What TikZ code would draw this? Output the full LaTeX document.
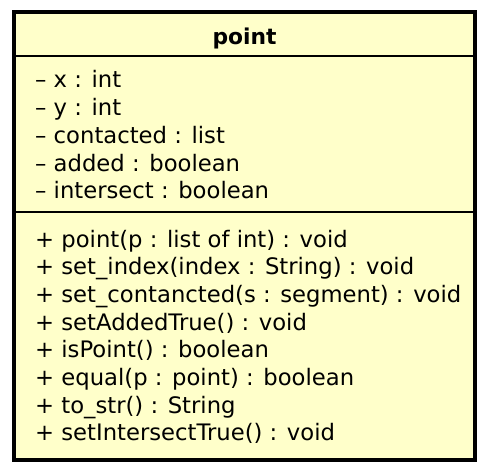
\documentclass[tikz,border=0pt]{standalone}
\usepackage{fontspec}
\setmainfont{DejaVu Sans}
\definecolor{classfill}{RGB}{255,255,202}
\tikzset{
  classbox/.style={draw=black, line width=4pt, fill=classfill},
  divider/.style={draw=black, line width=1.2pt},
  member/.style={anchor=base west, inner sep=0pt, font=\fontsize{22.7}{28}\selectfont},
  classname/.style={anchor=base, inner sep=0pt, font=\fontsize{21.8}{28}\selectfont\bfseries},
}
\begin{document}
\begin{tikzpicture}[x=1pt,y=-1pt]
\useasboundingbox (0,0) rectangle (486,470);
% class frame and compartments
\draw[classbox] (14,12) coordinate (tl) rectangle (475,460) coordinate (br);
\coordinate (s1) at (0,56);
\coordinate (s2) at (0,212);
\draw[divider] (tl |- s1) -- (br |- s1);
\draw[divider] (tl |- s2) -- (br |- s2);
% name
\node[classname] (title) at (244.5,45) {point};
% attributes
\node[member] (a1) at (35,88)    {– x : int};
\node[member] (a2) at (35,115.7) {– y : int};
\node[member] (a3) at (35,143.4) {– contacted : list};
\node[member] (a4) at (35,171.1) {– added : boolean};
\node[member] (a5) at (35,198.8) {– intersect : boolean};
% operations
\node[member] (m1) at (35,247)   {+ point(p : list of int) : void};
\node[member] (m2) at (35,274.7) {+ set\_index(index : String) : void};
\node[member] (m3) at (35,302.4) {+ set\_contancted(s : segment) : void};
\node[member] (m4) at (35,330.1) {+ setAddedTrue() : void};
\node[member] (m5) at (35,357.8) {+ isPoint() : boolean};
\node[member] (m6) at (35,385.5) {+ equal(p : point) : boolean};
\node[member] (m7) at (35,413.2) {+ to\_str() : String};
\node[member] (m8) at (35,440.9) {+ setIntersectTrue() : void};
\end{tikzpicture}
\end{document}
